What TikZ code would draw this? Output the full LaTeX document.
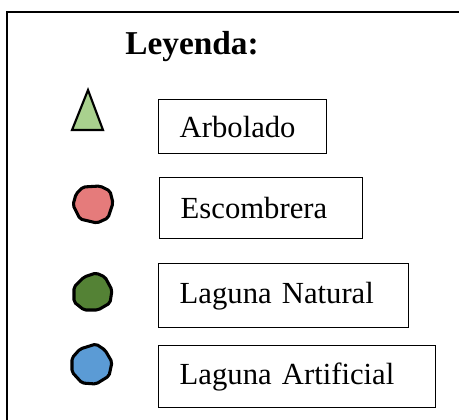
\documentclass[tikz,border=0pt]{standalone}
\usepackage{fontspec}
\setmainfont{Liberation Serif}
\usetikzlibrary{positioning}
\definecolor{treegreen}{HTML}{A9D18E}
\definecolor{dumppink}{HTML}{E57B7B}
\definecolor{lakegreen}{HTML}{548235}
\definecolor{lakeblue}{HTML}{5B9BD5}

\begin{document}
\begin{tikzpicture}[x=0.75pt,y=-0.75pt,
    legbox/.style={draw,line width=1.1pt,anchor=north west,inner xsep=15.75pt,
        align=left,font=\fontsize{23}{26}\selectfont},
    blob/.style={draw,line width=2.3pt,line join=round,rounded corners=1.5pt}]
    \useasboundingbox (0,0) rectangle (459,419);
    \clip (0,0) rectangle (459,419);
    % Frame and title
    \draw[line width=1.1pt] (7,12) rectangle (480,440);
    \node[font=\fontsize{25}{28}\selectfont\bfseries] (title) at (192,47) {Leyenda:};

    % Symbols
    \draw[fill=treegreen,line width=1.6pt] (88,90) -- (103,130) -- (72,130) -- cycle;
    \draw[blob,fill=dumppink] (83,187) -- (100,186) -- (110,191) -- (113,203) -- (108,218)
        -- (97,223) -- (80,219) -- (73,205) -- (76,194) -- cycle;
    \draw[blob,fill=lakegreen] (84,277) -- (96,273) -- (105,277) -- (112,290) -- (110,303)
        -- (98,310) -- (84,310) -- (74,302) -- (74,287) -- cycle;
    \draw[blob,fill=lakeblue] (80,349) -- (96,344) -- (105,350) -- (112,362) -- (109,376)
        -- (96,384) -- (82,383) -- (72,372) -- (72,358) -- cycle;

    % Legend boxes
    \node[legbox,minimum width=126pt,minimum height=40.5pt,text width=94.5pt]
        (arbolado) at (158,99) {Arbolado};
    \node[legbox,minimum width=152.25pt,minimum height=45.75pt,text width=120.75pt]
        (escombrera) at (159,177) {Escombrera};
    \node[legbox,minimum width=187.5pt,minimum height=48pt,text width=156pt]
        (lagnat) at (158,263) {Laguna Natural};
    \node[legbox,minimum width=207.75pt,minimum height=46.5pt,text width=176.25pt]
        (lagart) at (158,345) {Laguna Artificial};
\end{tikzpicture}
\end{document}
